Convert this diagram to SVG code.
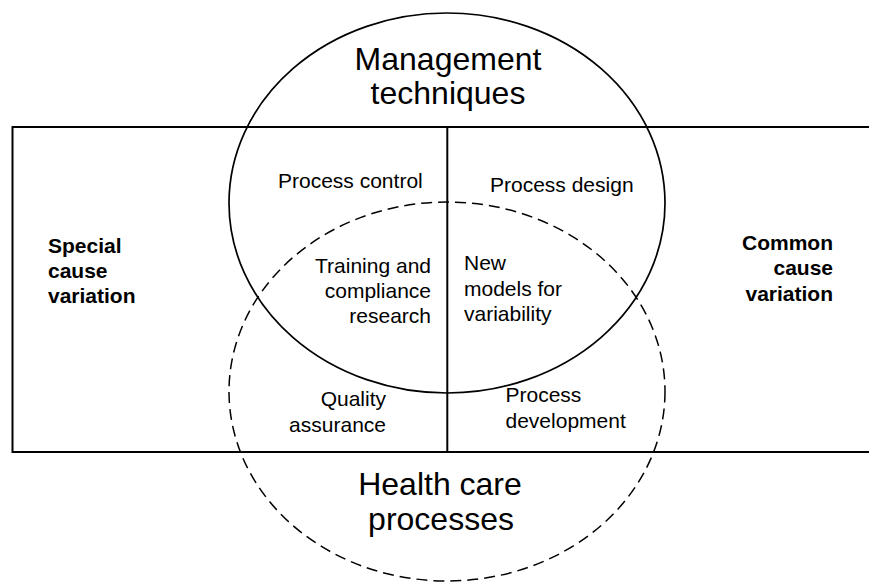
<svg xmlns="http://www.w3.org/2000/svg" width="869" height="582" viewBox="0 0 869 582">
<style>
.ln{fill:none;stroke:#000;stroke-width:2}
.el{fill:none;stroke:#000;stroke-width:1.7}
.dash{fill:none;stroke:#000;stroke-width:1.5;stroke-dasharray:11 6}
text{font-family:"Liberation Sans",Arial,sans-serif;fill:#000}
.big{font-size:32px}
.sm{font-size:21px}
.bold{font-size:21px;font-weight:bold}
</style>
<rect width="869" height="582" fill="#fff"/>
<g id="grid">
<path class="ln" d="M870,127 H12.5 V452 H870"/>
<line class="ln" x1="447.3" y1="127" x2="447.3" y2="452"/>
</g>
<g id="management">
<ellipse class="el" cx="447" cy="203" rx="218" ry="190"/>
<text class="big" x="448" y="70" text-anchor="middle">Management</text>
<text class="big" x="448" y="104" text-anchor="middle">techniques</text>
</g>
<g id="healthcare">
<ellipse class="dash" cx="447" cy="391.5" rx="218" ry="189.5"/>
<text class="big" x="440" y="495" text-anchor="middle">Health care</text>
<text class="big" x="441" y="530" text-anchor="middle">processes</text>
</g>
<g id="special">
<text class="bold" x="48" y="253">Special</text>
<text class="bold" x="48" y="278">cause</text>
<text class="bold" x="48" y="303">variation</text>
</g>
<g id="common">
<text class="bold" x="833" y="249.5" text-anchor="end">Common</text>
<text class="bold" x="833" y="275" text-anchor="end">cause</text>
<text class="bold" x="833" y="300.5" text-anchor="end">variation</text>
</g>
<g id="process-control">
<text class="sm" x="278" y="188">Process control</text>
</g>
<g id="process-design">
<text class="sm" x="490" y="192">Process design</text>
</g>
<g id="training">
<text class="sm" x="431" y="273" text-anchor="end">Training and</text>
<text class="sm" x="431" y="298" text-anchor="end">compliance</text>
<text class="sm" x="431" y="323" text-anchor="end">research</text>
</g>
<g id="new-models">
<text class="sm" x="464" y="270">New</text>
<text class="sm" x="464" y="296">models for</text>
<text class="sm" x="464" y="321">variability</text>
</g>
<g id="quality">
<text class="sm" x="386" y="406" text-anchor="end">Quality</text>
<text class="sm" x="386" y="432" text-anchor="end">assurance</text>
</g>
<g id="process-development">
<text class="sm" x="505.5" y="402">Process</text>
<text class="sm" x="505.5" y="427.5">development</text>
</g>
</svg>
